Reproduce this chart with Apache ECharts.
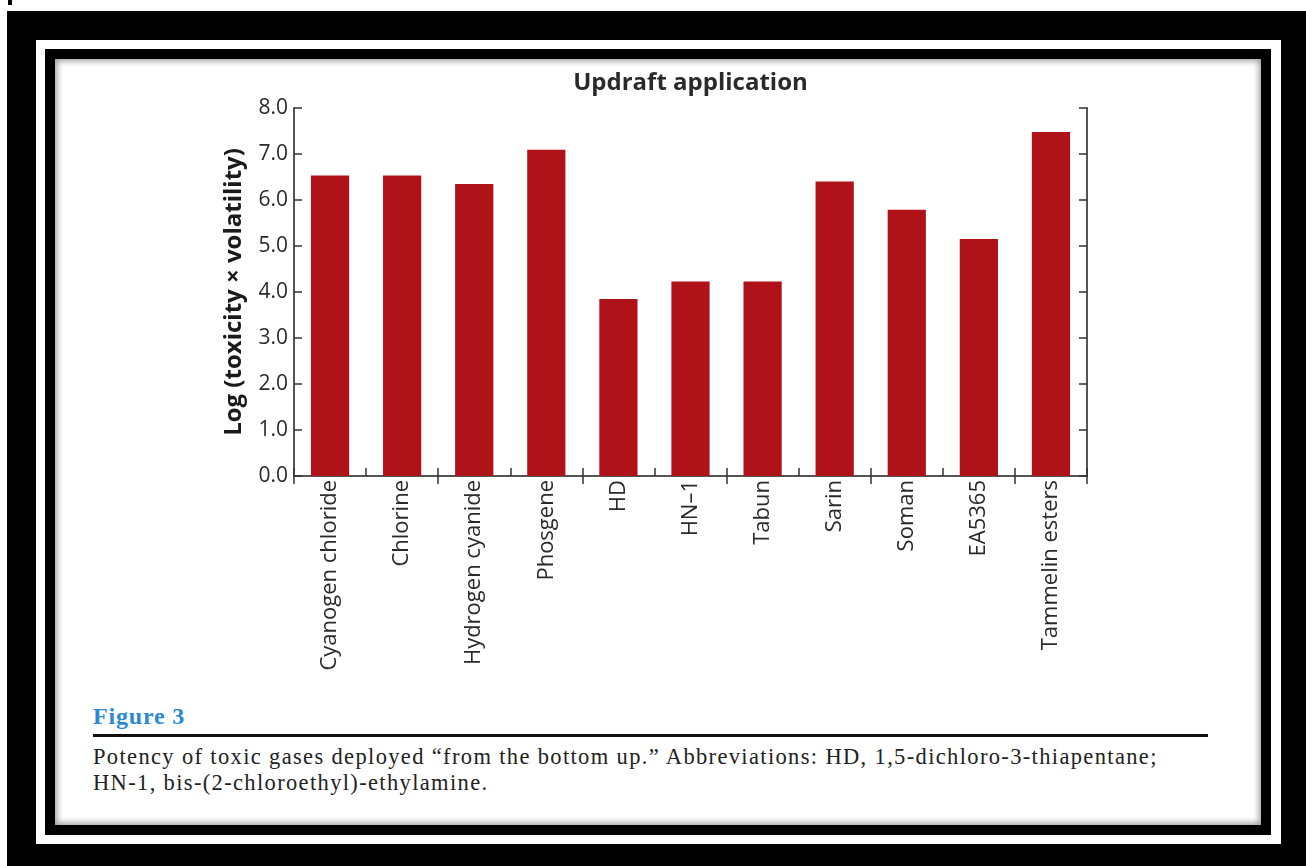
<!DOCTYPE html>
<html>
<head>
<meta charset="utf-8">
<script src="https://cdn.jsdelivr.net/npm/echarts@6/dist/echarts.min.js"></script>
<style>
  html, body { margin: 0; padding: 0; width: 1306px; height: 866px; background: #fff; overflow: hidden; }
  .abs { position: absolute; box-sizing: border-box; }
  #outer { left: 7px; top: 11px; width: 1299px; height: 855px; background: #000; }
  #mark { left: 8px; top: 0px; width: 4px; height: 5px; background: #000; }
  #gap { left: 36px; top: 40px; width: 1245px; height: 804px; background: #fff; }
  #inner { left: 45px; top: 49px; width: 1226px; height: 786px; background: #fff; border: 10px solid #000;
           box-shadow: inset 0 0 6px 2px rgba(0,0,0,0.4); }
  #chart { left: 0; top: 0; width: 1306px; height: 866px; }
  #figlabel { left: 93px; top: 703px; font-family: "Liberation Serif", serif; font-weight: bold; font-size: 24px; letter-spacing: 0.8px; color: #2b8ad2; }
  #rule { left: 93px; top: 734px; width: 1115px; height: 3px; background: #111; }
  #caption { left: 93px; top: 744px; font-family: "Liberation Serif", serif; font-size: 22.5px; line-height: 26px; color: #222; white-space: nowrap; }
</style>
</head>
<body>
<div id="mark" class="abs"></div>
<div id="outer" class="abs"></div>
<div id="gap" class="abs"></div>
<div id="inner" class="abs"></div>
<div id="figlabel" class="abs">Figure 3</div>
<div id="rule" class="abs"></div>
<div id="caption" class="abs"><span id="cap1">Potency of toxic gases deployed “from the bottom up.” Abbreviations: HD, 1,5-dichloro-3-thiapentane;</span><br><span id="cap2">HN-1, bis-(2-chloroethyl)-ethylamine.</span></div>
<div id="chart" class="abs"></div>
<script>
const categories = ['Cyanogen chloride', 'Chlorine', 'Hydrogen cyanide', 'Phosgene', 'HD', 'HN–1', 'Tabun', 'Sarin', 'Soman', 'EA5365', 'Tammelin esters'];
const values = [6.53, 6.53, 6.35, 7.09, 3.85, 4.23, 4.23, 6.40, 5.79, 5.15, 7.48];
const yTicks = [0, 1, 2, 3, 4, 5, 6, 7, 8];
const titleText = 'Updraft application';
const yAxisTitle = 'Log (toxicity × volatility)';

// fit caption first line to the reference width via letter-spacing
(function () {
  const s = document.getElementById('cap1');
  const w = s.getBoundingClientRect().width;
  const n = s.textContent.length;
  const ls = (1065 - w) / n;
  document.getElementById('caption').style.letterSpacing = ls.toFixed(2) + 'px';
})();

const axisLine = { show: true, lineStyle: { color: '#555', width: 2 } };
const axisTick = { show: true, inside: true, length: 8, lineStyle: { color: '#333', width: 1.5 } };
const FONT = '"Open Sans", "Noto Sans", sans-serif';

const chart = echarts.init(document.getElementById('chart'), null, { renderer: 'canvas' });
chart.setOption({
  backgroundColor: 'transparent',
  animation: false,
  grid: { left: 294, right: 219, top: 108, bottom: 390, containLabel: false },
  xAxis: [
    {
      type: 'category', data: categories, position: 'bottom',
      axisLine: axisLine, axisTick: axisTick,
      axisLabel: { rotate: 90, margin: 4, fontFamily: FONT, fontSize: 22, color: '#2a2a2a', interval: 0 },
      splitLine: { show: false }
    },
    {
      type: 'category', data: categories, position: 'top',
      axisLine: axisLine, axisTick: axisTick, axisLabel: { show: false },
      name: titleText, nameLocation: 'middle', nameGap: 13,
      nameTextStyle: { fontFamily: FONT, fontWeight: 'bold', fontSize: 24, color: '#2a2a2a' }
    }
  ],
  yAxis: [
    {
      type: 'value', min: yTicks[0], max: yTicks[yTicks.length - 1], interval: 1, position: 'left',
      axisLine: axisLine, axisTick: axisTick, splitLine: { show: false },
      axisLabel: { margin: 6, fontFamily: FONT, fontSize: 21, color: '#2a2a2a', formatter: v => v.toFixed(1) },
      name: yAxisTitle, nameLocation: 'middle', nameGap: 48, nameRotate: 90,
      nameTextStyle: { fontFamily: FONT, fontWeight: 'bold', fontSize: 24, color: '#1a1a1a' }
    },
    {
      type: 'value', min: yTicks[0], max: yTicks[yTicks.length - 1], interval: 1, position: 'right',
      axisLine: axisLine, axisTick: axisTick, splitLine: { show: false }, axisLabel: { show: false }
    }
  ],
  series: [{
    type: 'bar', data: values, xAxisIndex: 0, yAxisIndex: 0,
    barWidth: '53%',
    itemStyle: { color: '#b01219' }
  }]
});
</script>
</body>
</html>
